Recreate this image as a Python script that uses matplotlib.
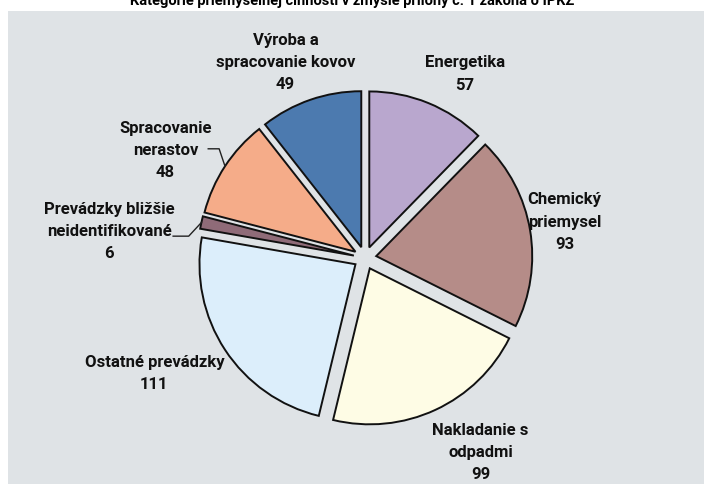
import numpy as np
import matplotlib
matplotlib.use("Agg")
import matplotlib.pyplot as plt
from matplotlib.patches import Rectangle

plt.rcParams['font.family'] = ['Roboto', 'DejaVu Sans']

title = "Kategórie priemyselnej činnosti v zmysle prílohy č. 1 zákona o IPKZ"
categories = ["Energetika", "Chemický\npriemysel", "Nakladanie s\nodpadmi",
              "Ostatné prevádzky", "Prevádzky bližšie\nneidentifikované",
              "Spracovanie\nnerastov", "Výroba a\nspracovanie kovov"]
values = [57, 93, 99, 111, 6, 48, 49]
colors = ["#B9A7CE", "#B58C88", "#FEFCE5", "#DCEEFB", "#8F6B78", "#F5AC89", "#4C7AAF"]

# label centres in data units (pie radius = 1)
label_pos = [(0.64, 1.18), (1.28, 0.23), (0.74, -1.245), (-1.35, -0.74),
             (-1.64, 0.17), (-1.28, 0.69), (-0.51, 1.255)]
leader = {4: (-1.23, 0.14), 5: (-1.005, 0.70)}  # leader start points

W, H = 704, 484
cx, cy, R = 365, 258, 156

fig = plt.figure(figsize=(W / 100, H / 100), dpi=100)
fig.patch.set_facecolor("white")
fig.patches.append(Rectangle((8 / W, 0), 1, 1 - 11 / H, transform=fig.transFigure,
                             facecolor="#DFE3E6", edgecolor="none", zorder=-1))
fig.text(0.5, 1 - 1 / H, title, ha="center", va="center", fontsize=10.5,
         fontweight="bold")

ax = fig.add_axes([0, 0, 1, 1])
ax.set_facecolor("none")

wedges, _ = ax.pie(values, colors=colors, startangle=90, counterclock=False,
                   explode=[0.073] * len(values),
                   wedgeprops=dict(edgecolor="#111111", linewidth=1.4))
ax.set_aspect("auto")
ax.set_xlim(-cx / R, (W - cx) / R)
ax.set_ylim((cy - H) / R, cy / R)
ax.axis("off")

for i, (w, lab, v) in enumerate(zip(wedges, categories, values)):
    lx, ly = label_pos[i]
    ax.text(lx, ly, f"{lab}\n{v}", ha="center", va="center", fontsize=12,
            fontweight="bold", linespacing=1.6, color="#111111")
    if i in leader:
        mid = np.deg2rad((w.theta1 + w.theta2) / 2)
        ex = w.center[0] + w.r * np.cos(mid)
        ey = w.center[1] + w.r * np.sin(mid)
        sx, sy = leader[i]
        kx = sx + 0.07 if i == 5 else sx + 0.1
        ax.plot([sx, kx, ex], [sy, sy, ey], color="#222222", linewidth=1.0)

fig.savefig("out.png", dpi=100)
